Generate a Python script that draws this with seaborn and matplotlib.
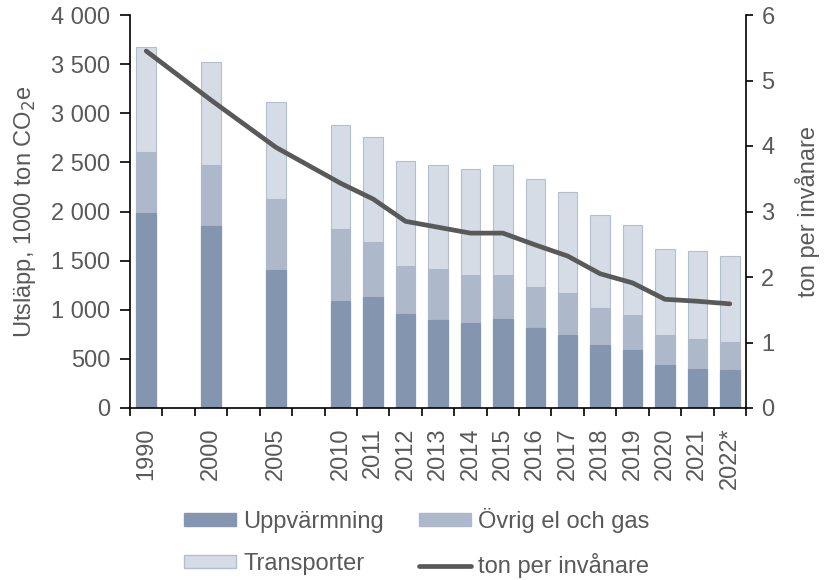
import numpy as np
import pandas as pd
import matplotlib
matplotlib.use('Agg')
import matplotlib.pyplot as plt
import seaborn as sns
from matplotlib.patches import Patch
from matplotlib.lines import Line2D
from matplotlib.ticker import FuncFormatter, FixedLocator

# Data
years = ['1990', '2000', '2005', '2010', '2011', '2012', '2013', '2014', '2015',
         '2016', '2017', '2018', '2019', '2020', '2021', '2022*']
uppvarmning = [1980, 1850, 1405, 1090, 1125, 955, 895, 865, 905, 810, 745, 640, 587, 434, 394, 387]
ovrig_el_gas = [625, 623, 720, 730, 565, 493, 517, 492, 452, 422, 425, 378, 360, 309, 305, 285]
transporter = [1072, 1045, 990, 1060, 1068, 1069, 1065, 1073, 1113, 1102, 1032, 943, 913, 878, 896, 878]
ton_per_invanare = [5.45, 4.70, 3.98, 3.43, 3.19, 2.85, 2.76, 2.67, 2.67, 2.49, 2.32, 2.05, 1.91, 1.66, 1.63, 1.59]

# category slots: one blank slot between 1990, 2000, 2005 and 2010
slots = [0, 2, 4] + list(range(6, 19))

df = pd.DataFrame({'slot': slots, 'year': years, 'upp': uppvarmning,
                   'ovr': ovrig_el_gas, 'tra': transporter, 'tpi': ton_per_invanare})
df['mid'] = df['upp'] + df['ovr']
df['top'] = df['mid'] + df['tra']

sns.set_style('white')
plt.rcParams['font.family'] = ['Liberation Sans', 'DejaVu Sans']
txt = '#595959'
plt.rcParams['text.color'] = txt
plt.rcParams['axes.labelcolor'] = txt
plt.rcParams['xtick.color'] = 'black'
plt.rcParams['ytick.color'] = 'black'
plt.rcParams['xtick.labelcolor'] = txt
plt.rcParams['ytick.labelcolor'] = txt

fs = 17
c_upp = '#8496AF'
c_ovr = '#ADB8CA'
c_tra = '#D5DCE6'
c_edge = '#B3BED0'
c_line = '#595959'

fig = plt.figure(figsize=(8.25, 5.8), dpi=100)
ax = fig.add_axes([130 / 825, 1 - 408 / 580, 616 / 825, 393 / 580])

sns.barplot(data=df, x='slot', y='top', native_scale=True, width=0.6,
            color=c_tra, saturation=1, edgecolor=c_edge, linewidth=0.8, ax=ax)
sns.barplot(data=df, x='slot', y='mid', native_scale=True, width=0.6,
            color=c_ovr, saturation=1, edgecolor=c_ovr, linewidth=0.8, ax=ax)
sns.barplot(data=df, x='slot', y='upp', native_scale=True, width=0.6,
            color=c_upp, saturation=1, edgecolor=c_upp, linewidth=0.8, ax=ax)

ax.set_xlim(-0.5, 18.5)
ax.set_ylim(0, 4000)
ax.set_yticks(np.arange(0, 4001, 500))
ax.yaxis.set_major_formatter(FuncFormatter(lambda v, p: f'{int(v):,}'.replace(',', ' ')))
ax.set_xticks(slots)
ax.set_xticklabels(years, rotation=90, fontsize=fs)
ax.xaxis.set_minor_locator(FixedLocator(np.arange(-0.5, 19, 1)))
ax.tick_params(axis='x', which='major', length=0, pad=14)
ax.tick_params(axis='x', which='minor', length=6, width=1.2, direction='out', bottom=True)
ax.tick_params(axis='y', length=7, width=1.2, direction='out', left=True, labelsize=fs, pad=7)
ax.set_xlabel('')
ax.set_ylabel('Utsläpp, 1000 ton CO$_2$e', fontsize=fs)
ax.yaxis.set_label_coords(-0.15, 0.5)
for s in ['top', 'right']:
    ax.spines[s].set_visible(False)
for s in ['left', 'bottom']:
    ax.spines[s].set_color('black')
    ax.spines[s].set_linewidth(1.2)

ax2 = ax.twinx()
sns.lineplot(data=df, x='slot', y='tpi', color=c_line, linewidth=3.4,
             solid_capstyle='round', solid_joinstyle='round', ax=ax2)
ax2.set_ylim(0, 6)
ax2.set_xlim(-0.5, 18.5)
ax2.set_yticks(range(0, 7))
ax2.tick_params(axis='y', length=5, width=1.2, direction='out', right=True, labelsize=fs, pad=6)
ax2.set_ylabel('ton per invånare', fontsize=fs)
ax2.yaxis.set_label_coords(1.08, 0.5)
for s in ['top', 'left', 'bottom']:
    ax2.spines[s].set_visible(False)
ax2.spines['right'].set_color('black')
ax2.spines['right'].set_linewidth(1.2)

handles = [Patch(facecolor=c_upp, edgecolor=c_upp), Patch(facecolor=c_tra, edgecolor=c_edge),
           Patch(facecolor=c_ovr, edgecolor=c_ovr), Line2D([], [], color=c_line, linewidth=3.4)]
labels = ['Uppvärmning', 'Transporter', 'Övrig el och gas', 'ton per invånare']
fig.legend(handles, labels, ncol=2, loc='center', bbox_to_anchor=(417 / 825, 1 - 543 / 580),
           frameon=False, fontsize=fs, handlelength=2.2, handleheight=0.45, handletextpad=0.3,
           columnspacing=1.5, labelspacing=0.85, borderpad=0)

fig.savefig('out.png', dpi=100)
